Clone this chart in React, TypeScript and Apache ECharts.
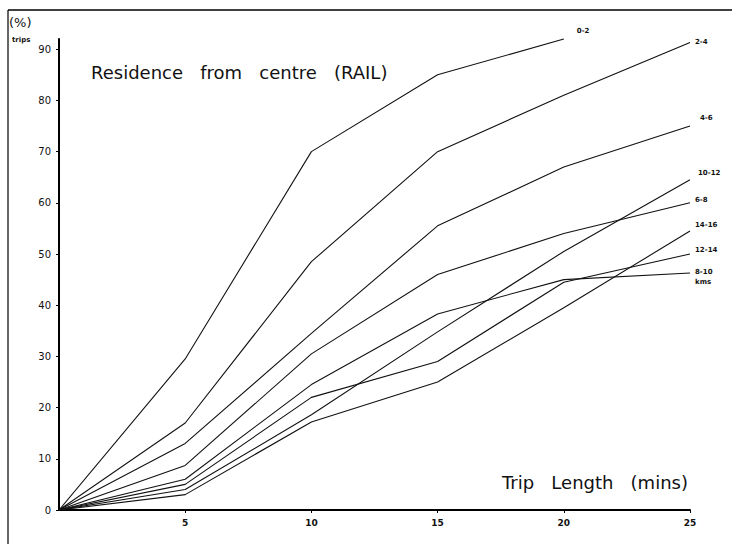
import React, { useEffect, useRef } from "react";
import * as echarts from "echarts";

const tripMinutes = [0, 5, 10, 15, 20, 25];
const seriesNames = ["0-2", "2-4", "4-6", "6-8", "8-10", "10-12", "12-14", "14-16"];
const v0_2 = [0, 29.5, 70, 85, 92];
const v2_4 = [0, 17, 48.5, 70, 81, 91.3];
const v4_6 = [0, 13, 34.5, 55.5, 67, 75];
const v6_8 = [0, 8.7, 30.5, 46, 54, 60];
const v8_10 = [0, 6, 24.5, 38.3, 45, 46.3];
const v10_12 = [0, 4, 18.6, 34.8, 50.5, 64.5];
const v12_14 = [0, 5, 22, 29, 44.5, 50];
const v14_16 = [0, 3, 17.2, 25, 39.5, 54.5];
const allValues = [v0_2, v2_4, v4_6, v6_8, v8_10, v10_12, v12_14, v14_16];
const endLabels = ["0-2", "2-4", "4-6", "6-8", "8-10\nkms", "10-12", "12-14", "14-16"];
const labelOffsets: [number, number][] = [
  [10, -8], [2, -1], [7, -8], [2, -3], [2, 4], [5, -7], [2, -4], [2, -6],
];

const FONT = "DejaVu Sans";

export default function App() {
  const ref = useRef<HTMLDivElement>(null);
  useEffect(() => {
    document.body.style.margin = "0";
    if (!ref.current) return;
    const chart = echarts.init(ref.current, undefined, { renderer: "svg" });
    const series = allValues.map((vals, i) => ({
      name: seriesNames[i],
      type: "line",
      symbol: "none",
      clip: false,
      lineStyle: { color: "#111", width: 1.1 },
      endLabel: {
        show: true,
        formatter: endLabels[i],
        offset: labelOffsets[i],
        distance: 3,
        fontFamily: FONT,
        fontSize: 7,
        fontWeight: "bold",
        color: "#111",
        lineHeight: 10,
        align: "left",
      },
      data: vals.map((v, j) => [tripMinutes[j], v]),
    }));
    chart.setOption({
      animation: false,
      backgroundColor: "#fff",
      title: {
        text: "Residence   from   centre   (RAIL)",
        left: 86,
        top: 58,
        textStyle: { fontFamily: FONT, fontSize: 18, fontWeight: "normal", color: "#111" },
      },
      grid: { left: 59, right: 42, top: 39, bottom: 34 },
      xAxis: {
        type: "value",
        min: 0,
        max: 25,
        interval: 5,
        splitLine: { show: false },
        axisLine: { lineStyle: { color: "#000", width: 2 } },
        axisTick: { length: 3, lineStyle: { color: "#000" } },
        axisLabel: {
          showMinLabel: false,
          margin: 8,
          fontFamily: FONT,
          fontSize: 9,
          fontWeight: "bold",
          color: "#111",
        },
      },
      yAxis: {
        type: "value",
        min: 0,
        max: 92,
        interval: 10,
        splitLine: { show: false },
        axisLine: { show: true, lineStyle: { color: "#000", width: 2 } },
        axisTick: { show: true, length: 3, lineStyle: { color: "#000" } },
        axisLabel: {
          showMaxLabel: false,
          margin: 8,
          fontFamily: FONT,
          fontSize: 10,
          color: "#111",
        },
      },
      graphic: [
        { type: "line", shape: { x1: 8, y1: 10, x2: 732, y2: 10 }, style: { stroke: "#000", lineWidth: 1.5 } },
        { type: "line", shape: { x1: 8, y1: 10, x2: 8, y2: 544 }, style: { stroke: "#000", lineWidth: 1.2 } },
        {
          type: "text",
          left: 9,
          top: 16,
          style: { text: "(%)", fontFamily: FONT, fontSize: 13, fill: "#111" },
        },
        {
          type: "text",
          left: 12,
          top: 36,
          style: { text: "trips", fontFamily: FONT, fontSize: 7, fontWeight: "bold", fill: "#111" },
        },
        {
          type: "text",
          left: 502,
          top: 473,
          style: { text: "Trip   Length   (mins)", fontFamily: FONT, fontSize: 18, fill: "#111" },
        },
      ],
      series,
    });
    return () => chart.dispose();
  }, []);
  return <div ref={ref} style={{ width: 732, height: 544 }} />;
}
